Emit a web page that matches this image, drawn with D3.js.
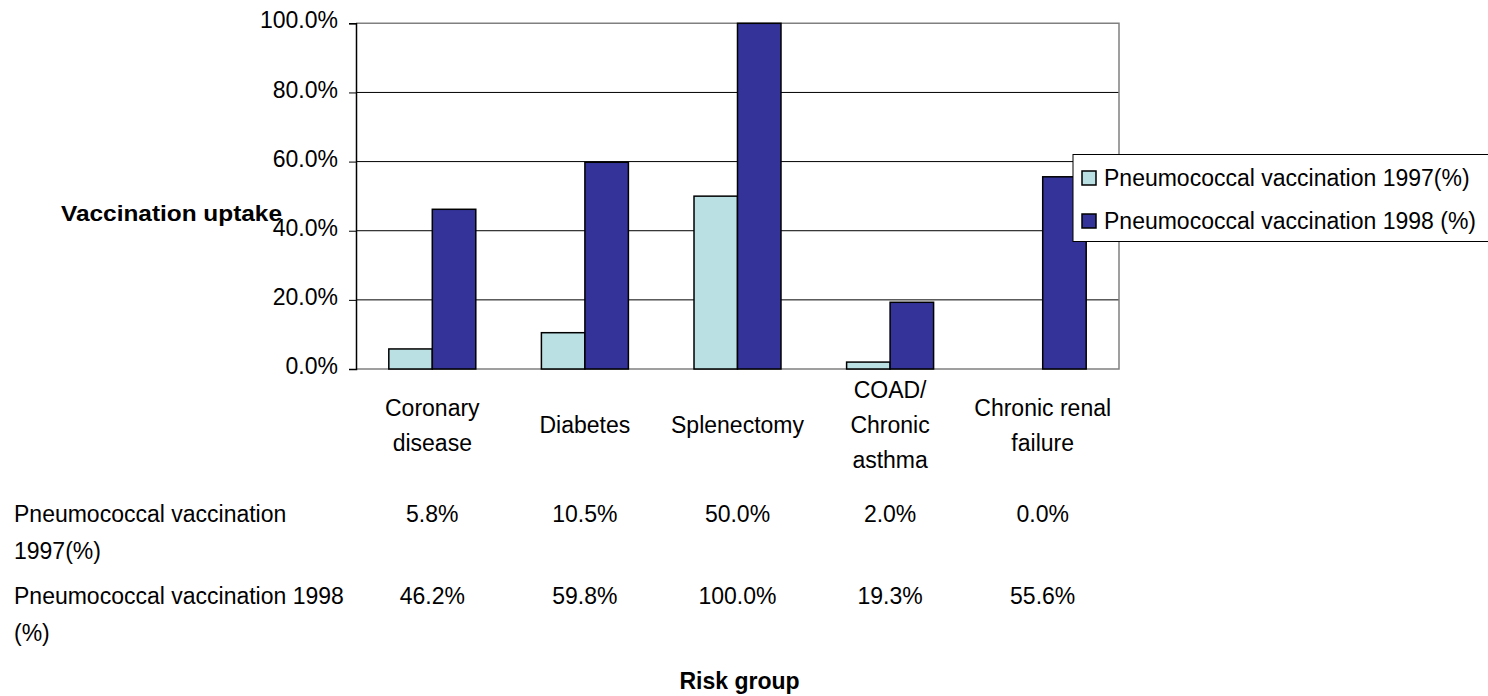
<!DOCTYPE html>
<html>
<head>
<meta charset="utf-8">
<script src="https://cdn.jsdelivr.net/npm/d3@7"></script>
<style>
  html, body { margin: 0; padding: 0; background: #fff; }
  svg { display: block; font-family: "Liberation Sans", Arial, sans-serif; }
</style>
</head>
<body>
<svg id="chart" width="1488" height="696"></svg>
<script>
// Risk groups and their multi-line axis labels
const categories = ["Coronary disease", "Diabetes", "Splenectomy", "COAD/ Chronic asthma", "Chronic renal failure"];
const categoryLines = [["Coronary", "disease"], ["Diabetes"], ["Splenectomy"], ["COAD/", "Chronic", "asthma"], ["Chronic renal", "failure"]];

// Uptake (%) per risk group
const uptake1997 = [5.8, 10.5, 50.0, 2.0, 0.0];
const uptake1998 = [46.2, 59.8, 100.0, 19.3, 55.6];

const seriesNames = ["Pneumococcal vaccination 1997(%)", "Pneumococcal vaccination 1998 (%)"];
const tableRowLabels = [["Pneumococcal vaccination", "1997(%)"], ["Pneumococcal vaccination 1998", "(%)"]];
const seriesColors = ["#BBE0E3", "#333399"];

const yTicks = [0, 20, 40, 60, 80, 100];

const svg = d3.select("#chart");
const FS = 23;

const plot = { left: 356, right: 1119, top: 23.3, bottom: 369 };

const x = d3.scaleBand()
  .domain(categories)
  .range([plot.left, plot.right])
  .paddingInner(0.43)
  .paddingOuter(0.215);

const xSeries = d3.scaleBand()
  .domain([0, 1])
  .range([0, x.bandwidth()]);

const y = d3.scaleLinear().domain([0, 100]).range([plot.bottom, plot.top]);

// Horizontal gridlines
svg.append("g")
  .selectAll("line")
  .data(yTicks.filter(t => t > 0 && t < 100))
  .join("line")
  .attr("x1", plot.left).attr("x2", plot.right)
  .attr("y1", d => y(d)).attr("y2", d => y(d))
  .attr("stroke", "#000").attr("stroke-width", 1);

// Plot frame (top, right, bottom)
svg.append("path")
  .attr("d", `M${plot.left},${y(100)}H${plot.right}V${plot.bottom}H${plot.left}`)
  .attr("fill", "none").attr("stroke", "#808080").attr("stroke-width", 1.5);

// Bars
const series = [uptake1997, uptake1998];
series.forEach((vals, si) => {
  svg.append("g")
    .selectAll("rect")
    .data(vals)
    .join("rect")
    .attr("x", (d, i) => x(categories[i]) + xSeries(si))
    .attr("width", xSeries.bandwidth())
    .attr("y", d => y(d))
    .attr("height", d => y(0) - y(d))
    .attr("fill", seriesColors[si])
    .attr("stroke", "#000")
    .attr("stroke-width", 1.5);
});

// Y axis
const yAxis = d3.axisLeft(y)
  .tickValues(yTicks)
  .tickSize(7)
  .tickPadding(11)
  .tickFormat(d => d.toFixed(1) + "%");

const yg = svg.append("g")
  .attr("transform", `translate(${plot.left},0)`)
  .call(yAxis);
yg.select(".domain").attr("stroke", "#000").attr("stroke-width", 1.5);
yg.selectAll(".tick line").attr("stroke", "#000").attr("stroke-width", 1);
yg.selectAll(".tick text")
  .attr("font-size", FS)
  .attr("font-family", "Liberation Sans, Arial, sans-serif")
  .attr("fill", "#000")
  .attr("dy", "0.2em");

// Y axis title
svg.append("text")
  .attr("x", 61).attr("y", 221)
  .attr("font-size", 22).attr("font-weight", "bold")
  .attr("textLength", 221).attr("lengthAdjust", "spacingAndGlyphs")
  .text("Vaccination uptake");

// Category labels (vertically centred blocks)
const lineH = 35;
const labelCenter = 425;
svg.append("g")
  .selectAll("text")
  .data(categoryLines)
  .join("text")
  .attr("text-anchor", "middle")
  .attr("font-size", FS)
  .each(function(lines, i) {
    const t = d3.select(this);
    const cx = x(categories[i]) + x.bandwidth() / 2;
    const first = labelCenter - (lines.length - 1) * lineH / 2;
    lines.forEach((ln, k) => {
      t.append("tspan").attr("x", cx).attr("y", first + k * lineH + 8).text(ln);
    });
  });

// Data table below the axis
const rowCenters = [514, 596];
[uptake1997, uptake1998].forEach((vals, r) => {
  const rowLbl = svg.append("text").attr("font-size", FS);
  tableRowLabels[r].forEach((ln, k) => {
    rowLbl.append("tspan").attr("x", 14).attr("y", rowCenters[r] + k * 37 + 8).text(ln);
  });
  svg.append("g")
    .selectAll("text")
    .data(vals)
    .join("text")
    .attr("x", (d, i) => x(categories[i]) + x.bandwidth() / 2)
    .attr("y", rowCenters[r] + 8)
    .attr("text-anchor", "middle")
    .attr("font-size", FS)
    .text(d => d.toFixed(1) + "%");
});

// X axis title
svg.append("text")
  .attr("x", (plot.left + plot.right) / 2 + 2)
  .attr("y", 689)
  .attr("text-anchor", "middle")
  .attr("font-size", 23).attr("font-weight", "bold")
  .text("Risk group");

// Legend
const legend = svg.append("g");
legend.append("rect")
  .attr("x", 1073).attr("y", 154.5)
  .attr("width", 440).attr("height", 87)
  .attr("fill", "#fff").attr("stroke", "#000").attr("stroke-width", 1);
const legendRows = [178, 221];
seriesNames.forEach((name, i) => {
  legend.append("rect")
    .attr("x", 1082).attr("y", legendRows[i] - 7)
    .attr("width", 14).attr("height", 14)
    .attr("fill", seriesColors[i]).attr("stroke", "#000").attr("stroke-width", 1.5);
  legend.append("text")
    .attr("x", 1104).attr("y", legendRows[i] + 8)
    .attr("font-size", FS)
    .text(name);
});
</script>
</body>
</html>
